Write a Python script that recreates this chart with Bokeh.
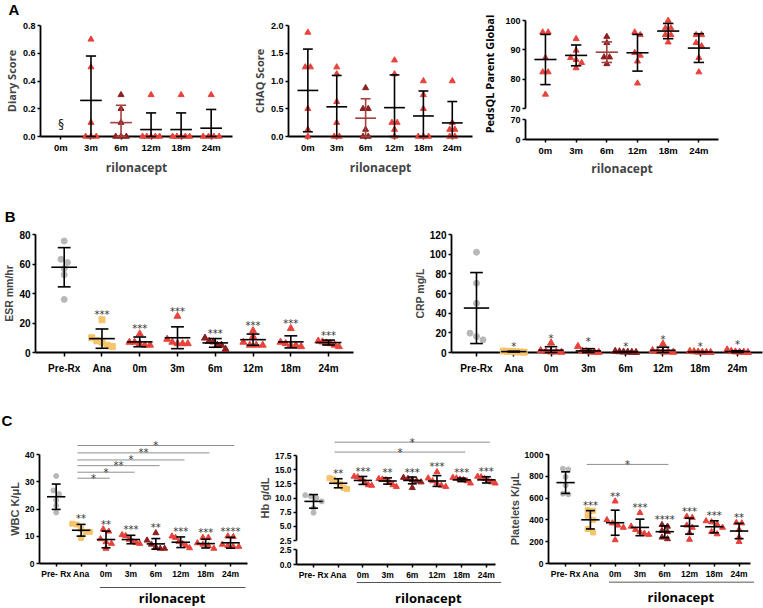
import math
from bokeh.plotting import figure
from bokeh.layouts import row, column
from bokeh.models import Range1d, FixedTicker, PrintfTickFormatter
from bokeh.core.properties import value
from bokeh.embed import file_html
from bokeh.resources import INLINE

# ---------------- data ----------------
month_labels = ["0m", "3m", "6m", "12m", "18m", "24m"]
group_labels_b = ["Pre-Rx", "Ana", "0m", "3m", "6m", "12m", "18m", "24m"]
group_labels_c = ["Pre- Rx", "Ana", "0m", "3m", "6m", "12m", "18m", "24m"]

diary_points = [[], [0.7, 0.5, 0.1, 0, 0, 0], [0.3, 0.2, 0.1, 0, 0, 0],
                [0.3, 0, 0, 0, 0, 0], [0.3, 0, 0, 0, 0, 0], [0.3, 0, 0, 0, 0]]
diary_mean = [None, 0.26, 0.10, 0.05, 0.05, 0.06]
diary_sd = [None, 0.32, 0.125, 0.12, 0.12, 0.135]

chaq_points = [[1.875, 1.25, 1.25, 0.5, 0.125, 0], [1.25, 1.125, 0.625, 0.25, 0, 0],
               [0.875, 0.5, 0.5, 0.125, 0, 0], [1.375, 1.125, 0.25, 0.25, 0.125, 0],
               [1.0, 0.75, 0.5, 0, 0, 0], [1.0, 0.25, 0.125, 0.125, 0, 0]]
chaq_mean = [0.83, 0.535, 0.33, 0.52, 0.37, 0.245]
chaq_sd = [0.745, 0.565, 0.35, 0.59, 0.45, 0.385]

peds_points = [[96, 96, 87.3, 82.4, 82.4, 74.8], [93.75, 89.8, 87.3, 86.6, 85.6, 83.8],
               [94.5, 92.4, 87.5, 87.5, 85.2], [96, 95.1, 89, 88.1, 86.1, 78.6],
               [100, 97.4, 97.4, 95.1, 95.1, 92.6], [95.1, 95.1, 92.4, 91.3, 87.3, 82.4]]
peds_mean = [86.7, 88.1, 89.2, 89.0, 96.4, 90.6]
peds_sd = [8.55, 3.55, 3.5, 6.25, 2.6, 4.9]

esr_points = [[75.6, 63.2, 61, 56.7, 52.7, 36], [22.2, 10, 8, 7, 5, 4],
              [12.6, 7, 7, 6, 5, 5], [24.6, 9, 7, 6, 6, 6], [9.8, 7.6, 7.2, 5, 5, 2.2],
              [14.8, 10.9, 7, 5, 5, 5], [16.3, 7, 6, 5, 5, 4], [7.8, 7.2, 6.5, 6, 5, 4]]
esr_mean = [57.8, 9.4, 7.2, 10.0, 6.5, 8.7, 7.2, 6.75]
esr_sd = [13.3, 6.55, 3.3, 7.4, 2.95, 3.8, 4.1, 1.65]
esr_stars = ["", "***", "***", "***", "***", "***", "***", "***"]

crp_points = [[102, 70.4, 50, 19.7, 16.3, 12.9], [1.5, 1.2, 1, 0.8, 0.5, 0.3],
              [9.6, 2, 1, 0.5, 0.5, 0.3], [6.2, 1.5, 1, 0.5, 0.3, 0.2],
              [1.2, 0.8, 0.5, 0.4, 0.2, 0.1], [8.6, 2, 1, 0.6, 0.5, 0.3],
              [1.2, 0.8, 0.5, 0.3, 0.2, 0.1], [2.7, 1.2, 0.6, 0.4, 0.3, 0.1]]
crp_mean = [45.2, 0.9, 2.3, 1.6, 0.5, 2.2, 0.5, 0.9]
crp_sd = [36.1, 0.4, 3.6, 2.3, 0.4, 3.2, 0.4, 0.9]
crp_stars = ["", "*", "*", "*", "*", "*", "*", "*"]

wbc_points = [[32.1, 26.8, 25.5, 23.2, 21.3, 18.7], [14.6, 14.3, 12.7, 11.6, 11.6, 9.4],
              [12.6, 11.8, 9.0, 7.9, 7.3, 5.5], [10.5, 10.2, 8.8, 8.0, 7.6, 7.3],
              [11.2, 8.5, 7.0, 6.0, 5.5, 5.5], [10.0, 9.5, 8.0, 7.3, 6.5, 5.7],
              [9.5, 9.5, 7.5, 7.0, 6.5, 5.5], [10.0, 9.8, 7.0, 6.5, 6.2, 6.2]]
wbc_mean = [24.5, 12.2, 8.8, 8.8, 7.2, 7.8, 7.3, 7.6]
wbc_sd = [4.65, 2.15, 3.05, 1.55, 1.95, 1.95, 1.6, 2.0]
wbc_stars = ["", "**", "**", "***", "**", "***", "***", "****"]
wbc_sig_to = ["0m", "3m", "6m", "12m", "18m", "24m"]
wbc_sig_y = [31.3, 33.5, 35.9, 38.0, 40.6, 43.3]
wbc_sig_text = ["*", "*", "**", "*", "**", "*"]

hb_points = [[10.5, 10.3, 10.0, 9.4, 8.2, 7.4], [13.5, 13.3, 12.9, 12.5, 11.8, 11.6],
             [13.8, 13.7, 13.3, 12.8, 12.3, 12.2], [13.4, 13.3, 13.2, 12.8, 12.3, 12.0],
             [13.6, 13.4, 13.2, 13.0, 12.8, 11.8], [14.6, 13.5, 13.0, 12.6, 12.2, 12.0],
             [13.6, 13.5, 13.3, 13.2, 13.0, 12.6], [13.8, 13.7, 13.4, 13.1, 12.8, 12.6]]
hb_mean = [9.4, 12.6, 13.1, 13.0, 13.1, 13.0, 13.2, 13.2]
hb_sd = [1.2, 0.8, 0.7, 0.55, 0.6, 0.95, 0.3, 0.55]
hb_stars = ["", "**", "***", "**", "***", "***", "***", "***"]
hb_sig_to = ["18m", "24m"]
hb_sig_y = [18.1, 19.85]
hb_sig_text = ["*", "*"]

plt_points = [[870, 863, 793, 717, 641, 635], [489, 483, 438, 400, 316, 285],
              [571, 400, 370, 350, 330, 216], [465, 340, 310, 290, 275, 265],
              [355, 340, 300, 290, 240, 225], [430, 420, 350, 330, 280, 220],
              [390, 380, 360, 330, 290, 270], [375, 370, 310, 240, 200]]
plt_mean = [742, 401, 374, 331, 292, 343, 337, 298]
plt_sd = [99, 84, 115, 76, 54, 73, 55, 70]
plt_stars = ["", "***", "**", "***", "****", "***", "***", "**"]
plt_sig_to = ["6m"]
plt_sig_y = [909]
plt_sig_text = ["*"]

# ---------------- styles ----------------
TICK_FONT = "Liberation Sans"
TITLE_FONT = "Open Sans"
COLORS = {"pre": "#b8b8b8", "ana": "#f6c46c", "red": "#e8423b", "dark": "#8e1f1f"}
MARKERS = {"pre": "circle", "ana": "square", "red": "triangle", "dark": "triangle"}


def kind_of(label):
    if label.startswith("Pre"):
        return "pre"
    if label == "Ana":
        return "ana"
    if label == "6m":
        return "dark"
    return "red"


def swarm(vals, ppy, diam, maxhalf):
    n = len(vals)
    order = sorted(range(n), key=lambda i: -vals[i])
    offs = [0.0] * n
    clusters, cur = [], []
    for i in order:
        if cur and (vals[cur[-1]] - vals[i]) * ppy < 0.8 * diam:
            cur.append(i)
        else:
            if cur:
                clusters.append(cur)
            cur = [i]
    if cur:
        clusters.append(cur)
    for cl in clusters:
        m = len(cl)
        if m == 1:
            continue
        half = min((m - 1) / 2 * diam, maxhalf)
        for k, i in enumerate(cl):
            offs[i] = -half + 2 * half * k / (m - 1)
    return offs


def make_fig(w, h, l, r, t, b, xr, yr):
    p = figure(width=w, height=h, x_range=Range1d(*xr), y_range=Range1d(*yr),
               output_backend="svg", toolbar_location=None,
               min_border_left=l, min_border_right=r, min_border_top=t, min_border_bottom=b)
    p.outline_line_color = None
    p.grid.visible = False
    geo = dict(ppx=(w - l - r) / (xr[1] - xr[0]), ppy=(h - t - b) / (yr[1] - yr[0]),
               x0=xr[0], y0=yr[0], l=l, t=t, fh=h - t - b)
    return p, geo


def style_x(p, labels, size, tick_out=3, standoff=2, title=None, title_size="12px", title_standoff=3):
    ax = p.xaxis[0]
    ax.ticker = FixedTicker(ticks=list(range(len(labels))))
    ax.major_label_overrides = {i: s for i, s in enumerate(labels)}
    ax.major_label_text_font = TICK_FONT
    ax.major_label_text_font_style = "bold"
    ax.major_label_text_font_size = size
    ax.major_label_text_color = "black"
    ax.major_tick_out = tick_out
    ax.major_tick_in = 0
    ax.minor_tick_line_color = None
    ax.axis_line_width = 1.8
    ax.major_tick_line_width = 1.5
    ax.major_label_standoff = standoff
    if title:
        ax.axis_label = title
        ax.axis_label_text_font = TITLE_FONT
        ax.axis_label_text_font_style = "bold"
        ax.axis_label_text_font_size = title_size
        ax.axis_label_standoff = title_standoff


def style_y(p, ticks, fmt, size, bounds=None, title=None, title_font=TICK_FONT, title_size="11px"):
    ay = p.yaxis[0]
    ay.ticker = FixedTicker(ticks=ticks)
    ay.formatter = PrintfTickFormatter(format=fmt)
    if bounds is not None:
        ay.bounds = bounds
    ay.major_label_text_font = TICK_FONT
    ay.major_label_text_font_style = "bold"
    ay.major_label_text_font_size = size
    ay.major_label_text_color = "black"
    ay.major_tick_out = 3
    ay.major_tick_in = 0
    ay.minor_tick_line_color = None
    ay.axis_line_width = 1.8
    ay.major_tick_line_width = 1.5
    ay.major_label_standoff = 2
    if title:
        ay.axis_label = title
        ay.axis_label_text_font = title_font
        ay.axis_label_text_font_style = "bold"
        ay.axis_label_text_font_size = title_size
        ay.axis_label_standoff = 1
    else:
        ay.axis_label = None


def draw_groups(p, geo, labels, pts, means, sds, ymin, msize, wmean, wcap, bar6=None, diam=6.0):
    for i, (lab, vals) in enumerate(zip(labels, pts)):
        k = kind_of(lab)
        col = COLORS[k]
        if vals:
            offs = swarm(vals, geo["ppy"], diam, 1.6 * diam)
            xs = [i + o / geo["ppx"] for o in offs]
            size = msize + (1.0 if MARKERS[k] == "triangle" else 0)
            p.scatter(xs, vals, marker=MARKERS[k], size=size, fill_color=col,
                      line_color=col, level="overlay")
        if means[i] is not None:
            m, s = means[i], sds[i]
            hi, lo = m + s, max(m - s, ymin)
            bc = bar6 if (lab == "6m" and bar6) else "black"
            p.segment([i - wmean, i, i - wcap, i - wcap], [m, lo, hi, lo],
                      [i + wmean, i, i + wcap, i + wcap], [m, hi, hi, lo],
                      line_color=bc, line_width=1.6, level="overlay")


def draw_stars(p, pts, means, sds, stars, size="10px", yoff=-5):
    xs, ys, ts = [], [], []
    for i, st in enumerate(stars):
        if not st:
            continue
        top = max(max(pts[i]), means[i] + sds[i])
        xs.append(i)
        ys.append(top)
        ts.append(st)
    p.text(x=xs, y=ys, text=ts, text_font=value("DejaVu Sans"), text_font_size=size,
           text_align="center", text_baseline="alphabetic", y_offset=yoff,
           text_color="#333333", level="overlay")


def draw_sig(p, labels, to, ys, texts, start="Ana"):
    i0 = labels.index(start)
    x0s, x1s, cx = [], [], []
    for tgt in to:
        j = labels.index(tgt)
        x0s.append(i0 - 0.15)
        x1s.append(j + 0.15)
        cx.append((i0 - 0.15 + j + 0.15) / 2)
    p.segment(x0s, ys, x1s, ys, line_color="#8f8f8f", line_width=1.0, level="overlay")
    p.text(x=cx, y=ys, text=texts, text_font=value("DejaVu Sans"), text_font_size="10px",
           text_align="center", text_baseline="alphabetic", y_offset=0,
           text_color="#333333", level="overlay")


def free_text(p, geo, txt, sx, sy, size, font, align="left", baseline="top", angle=0.0):
    # sx, sy: pixel position inside this figure's canvas (from its top-left corner)
    x = geo["x0"] + (sx - geo["l"]) / geo["ppx"]
    y = geo["y0"] + (geo["fh"] + geo["t"] - sy) / geo["ppy"]
    p.text(x=[x], y=[y], text=[txt], text_font=value(font), text_font_style="bold",
           text_font_size=size, text_align=align, text_baseline=baseline, angle=angle,
           text_color="black", level="overlay")


def rilonacept_under(p, geo, line_px, text_px, x0=1.75, x1=7.6, xc=4.65):
    yl = geo["y0"] - line_px / geo["ppy"]
    p.segment([x0], [yl], [x1], [yl], line_color="#555555", line_width=1.0, level="overlay")
    yt = geo["y0"] - text_px / geo["ppy"]
    p.text(x=[xc], y=[yt], text=["rilonacept"], text_font=value(TITLE_FONT),
           text_font_style="bold", text_font_size="13px", text_align="center",
           text_baseline="middle", text_color="black", level="overlay")


# ---------------- Row A ----------------
pA1, gA1 = make_fig(248, 183, 34, 16, 25, 47, (-0.68, 5.71), (0, 0.8))
style_x(pA1, month_labels, "9.5px", title="rilonacept")
style_y(pA1, [0, 0.2, 0.4, 0.6, 0.8], "%.1f", "9px", title="Diary Score",
        title_font=TITLE_FONT, title_size="11px")
draw_groups(pA1, gA1, month_labels, diary_points, diary_mean, diary_sd, 0, 5.0, 0.36, 0.17,
            bar6="#a4413f", diam=5.5)
pA1.text(x=[0], y=[0.09], text=["§"], text_font=value("DejaVu Sans"), text_font_size="12px",
         text_align="center", text_baseline="middle", text_color="#222222", level="overlay")
free_text(pA1, gA1, "A", 1, 0, "15px", TICK_FONT)

pA2, gA2 = make_fig(232, 183, 30, 8, 22, 46, (-0.67, 5.7), (0, 2.0))
style_x(pA2, month_labels, "9.5px", title="rilonacept")
style_y(pA2, [0, 0.5, 1.0, 1.5, 2.0], "%.1f", "9px", title="CHAQ Score",
        title_font=TITLE_FONT, title_size="11px")
draw_groups(pA2, gA2, month_labels, chaq_points, chaq_mean, chaq_sd, 0, 5.0, 0.36, 0.17,
            bar6="#a4413f", diam=5.5)

pA3lab, gA3lab = make_fig(16, 183, 0, 0, 0, 0, (0, 16), (0, 183))
pA3lab.xaxis.visible = False
pA3lab.yaxis.visible = False
free_text(pA3lab, gA3lab, "PedsQL Parent Global", 9, 80, "11px", TITLE_FONT,
          align="center", baseline="middle", angle=math.pi / 2)

pA3u, gA3u = make_fig(267, 114, 29, 45, 20, 6, (-0.65, 5.64), (70, 100))
pA3u.xaxis.visible = False
style_y(pA3u, [70, 80, 90, 100], "%d", "9px", bounds=(70, 100))
draw_groups(pA3u, gA3u, month_labels, peds_points, peds_mean, peds_sd, 70, 5.0, 0.36, 0.17,
            bar6="#a4413f", diam=5.5)

pA3l, gA3l = make_fig(267, 69, 29, 45, 5, 44, (-0.65, 5.64), (0, 70))
style_x(pA3l, month_labels, "9.5px", title="rilonacept", title_standoff=1)
style_y(pA3l, [0, 70], "%d", "9px", bounds=(0, 70))

rowA = row(pA1, pA2, pA3lab, column(pA3u, pA3l))

# ---------------- Row B ----------------
pB1, gB1 = make_fig(395, 197, 32, 42, 46, 28, (-0.76, 7.66), (0, 80))
style_x(pB1, group_labels_b, "10px", tick_out=4, standoff=6)
style_y(pB1, [0, 20, 40, 60, 80], "%d", "10px", title="ESR mm/hr", title_size="10.5px")
draw_groups(pB1, gB1, group_labels_b, esr_points, esr_mean, esr_sd, 0, 6.0, 0.34, 0.17, diam=6.5)
draw_stars(pB1, esr_points, esr_mean, esr_sd, esr_stars)
free_text(pB1, gB1, "B", 1, 18, "15px", TICK_FONT)

pB2, gB2 = make_fig(368, 197, 56, 1, 51, 28, (-0.67, 7.67), (0, 120))
style_x(pB2, group_labels_b, "10px", tick_out=4, standoff=6)
style_y(pB2, [0, 20, 40, 60, 80, 100, 120], "%d", "10px", title="CRP mg/L", title_size="10.5px")
draw_groups(pB2, gB2, group_labels_b, crp_points, crp_mean, crp_sd, 0, 6.0, 0.34, 0.17, diam=6.5)
draw_stars(pB2, crp_points, crp_mean, crp_sd, crp_stars)

rowB = row(pB1, pB2)

# ---------------- Row C ----------------
pC1, gC1 = make_fig(252, 228, 39, 5, 74, 45, (-0.67, 7.68), (0, 40))
style_x(pC1, group_labels_c, "8.5px")
style_y(pC1, [0, 10, 20, 30, 40], "%d", "8.5px", title="WBC K/μL", title_size="11px")
draw_groups(pC1, gC1, group_labels_c, wbc_points, wbc_mean, wbc_sd, 0, 5.0, 0.37, 0.18, diam=5.5)
draw_stars(pC1, wbc_points, wbc_mean, wbc_sd, wbc_stars)
draw_sig(pC1, group_labels_c, wbc_sig_to, wbc_sig_y, wbc_sig_text)
rilonacept_under(pC1, gC1, 24, 34)
free_text(pC1, gC1, "C", 1, 31, "15px", TICK_FONT)

pC2u, gC2u = make_fig(253, 164, 44, 10, 75, 4, (-0.69, 7.37), (2.5, 17.5))
pC2u.xaxis.visible = False
style_y(pC2u, [2.5, 5.0, 7.5, 10.0, 12.5, 15.0, 17.5], "%.1f", "8.5px", bounds=(2.5, 17.5),
        title="Hb g/dL", title_size="11px")
draw_groups(pC2u, gC2u, group_labels_c, hb_points, hb_mean, hb_sd, 2.5, 5.0, 0.37, 0.18, diam=5.5)
draw_stars(pC2u, hb_points, hb_mean, hb_sd, hb_stars)
draw_sig(pC2u, group_labels_c, hb_sig_to, hb_sig_y, hb_sig_text)

pC2l, gC2l = make_fig(253, 64, 44, 10, 5, 44, (-0.69, 7.37), (0, 2.5))
style_x(pC2l, group_labels_c, "8.5px")
style_y(pC2l, [0, 2.5], "%.1f", "8.5px", bounds=(0, 2.5))
rilonacept_under(pC2l, gC2l, 18, 33)

pC3, gC3 = make_fig(258, 228, 43, 13, 72, 45, (-0.69, 7.46), (0, 1000))
style_x(pC3, group_labels_c, "8.5px")
style_y(pC3, [0, 200, 400, 600, 800, 1000], "%d", "8.5px", title="Platelets K/μL",
        title_size="11px")
draw_groups(pC3, gC3, group_labels_c, plt_points, plt_mean, plt_sd, 0, 5.0, 0.37, 0.18, diam=5.5)
draw_stars(pC3, plt_points, plt_mean, plt_sd, plt_stars)
draw_sig(pC3, group_labels_c, plt_sig_to, plt_sig_y, plt_sig_text)
rilonacept_under(pC3, gC3, 19, 34)

rowC = row(pC1, column(pC2u, pC2l), pC3)

p = column(rowA, rowB, rowC)
open("out.html", "w").write(file_html(p, INLINE))
